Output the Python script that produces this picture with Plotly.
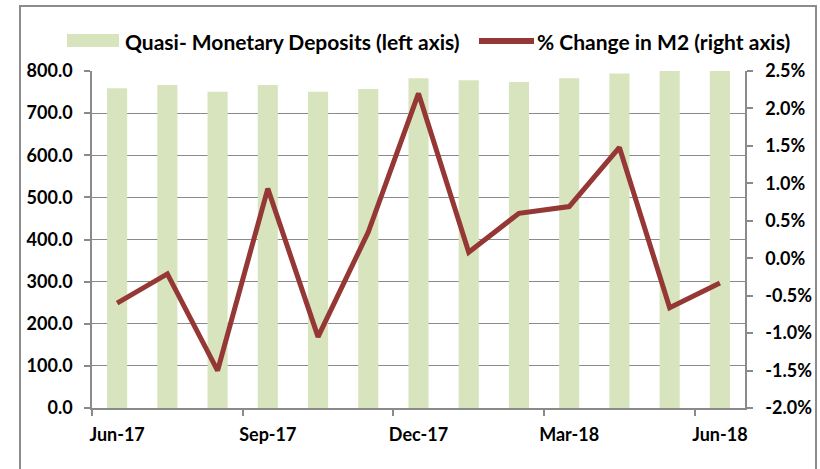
import plotly.graph_objects as go

months = ["Jun-17", "Jul-17", "Aug-17", "Sep-17", "Oct-17", "Nov-17", "Dec-17",
          "Jan-18", "Feb-18", "Mar-18", "Apr-18", "May-18", "Jun-18"]
quasi_deposits = [759, 767, 751, 767, 751, 757, 783, 778, 774, 783, 794, 800, 802]
m2_change_pct = [-0.60, -0.21, -1.50, 0.93, -1.05, 0.35, 2.20, 0.08, 0.60, 0.69, 1.48, -0.66, -0.33]
left_ticks = [0, 100, 200, 300, 400, 500, 600, 700, 800]
right_ticks = [-2.0, -1.5, -1.0, -0.5, 0.0, 0.5, 1.0, 1.5, 2.0, 2.5]
label_every = 3

bar_name = "Quasi- Monetary Deposits (left axis)"
line_name = "% Change in M2 (right axis)"

FONT = "Lato"
BAR_COLOR = "#D7E4BD"
LINE_COLOR = "#953735"
GRID = "#8A8A8A"

x = list(range(len(months)))

fig = go.Figure()
fig.add_trace(go.Bar(x=x, y=quasi_deposits, name=bar_name, marker_color=BAR_COLOR,
                     marker_line_width=0, width=0.4, showlegend=False))
fig.add_trace(go.Scatter(x=x, y=m2_change_pct, name=line_name, yaxis="y2", mode="lines",
                         line=dict(color=LINE_COLOR, width=5), showlegend=False))

W, H = 820, 469
L, R, T, B = 92, 75, 71, 61
pw, ph = W - L - R, H - T - B

def px(xp):
    return (xp - L) / pw

def py(yp):
    return (H - B - yp) / ph

tickfont = dict(family=FONT, size=18, color="#000000", weight="bold")

fig.update_layout(
    width=W, height=H,
    margin=dict(l=L, r=R, t=T, b=B, autoexpand=False),
    paper_bgcolor="white", plot_bgcolor="white",
    xaxis=dict(range=[-0.5, len(months) - 0.5], tickmode="array",
               tickvals=x[::label_every], ticktext=months[::label_every],
               ticks="", showgrid=False, showline=True, linecolor=GRID, linewidth=1.5,
               tickfont=tickfont, zeroline=False, ticklabelstandoff=10,
               minor=dict(tickmode="linear", tick0=-0.5, dtick=label_every, ticks="outside",
                          ticklen=6, tickcolor=GRID, tickwidth=1.5, showgrid=False)),
    yaxis=dict(range=[0, 800], tickmode="array", tickvals=left_ticks,
               ticktext=[f"{v:.1f}" for v in left_ticks], showgrid=True,
               gridcolor=GRID, gridwidth=1.2, showline=True, linecolor=GRID, linewidth=1.5,
               ticks="outside", ticklen=6, tickcolor=GRID, tickwidth=1.5,
               tickfont=tickfont, zeroline=False, ticklabelstandoff=8),
    yaxis2=dict(range=[-2.0, 2.5], tickmode="array", tickvals=right_ticks,
                ticktext=[f"{v:.1f}%" for v in right_ticks],
                overlaying="y", side="right", showgrid=False, showline=True,
                linecolor=GRID, linewidth=1.5, ticks="outside", ticklen=6,
                tickcolor=GRID, tickwidth=1.5, tickfont=tickfont, zeroline=False,
                ticklabelstandoff=9),
    showlegend=False,
)

# outer chart border
fig.add_shape(type="rect", xref="paper", yref="paper",
              x0=px(20), x1=px(816), y0=py(480), y1=py(6),
              line=dict(color="#8C8C8C", width=2), fillcolor="rgba(0,0,0,0)", layer="below")

# legend (manual, to match the reference's symbol sizes)
fig.add_shape(type="rect", xref="paper", yref="paper",
              x0=px(67), x1=px(119), y0=py(47), y1=py(34),
              line=dict(width=0), fillcolor=BAR_COLOR)
fig.add_shape(type="line", xref="paper", yref="paper",
              x0=px(479), x1=px(534), y0=py(41), y1=py(41),
              line=dict(color=LINE_COLOR, width=6))
legfont = dict(family=FONT, size=21, color="#000000", weight="bold")
fig.add_annotation(text=bar_name, xref="paper", yref="paper", x=px(123), y=py(41),
                   xanchor="left", yanchor="middle", showarrow=False, font=legfont)
fig.add_annotation(text=line_name, xref="paper", yref="paper", x=px(535), y=py(41),
                   xanchor="left", yanchor="middle", showarrow=False, font=legfont)

fig.write_html("out.html", config={"displayModeBar": False},
               post_script="document.body.style.margin='0';")
